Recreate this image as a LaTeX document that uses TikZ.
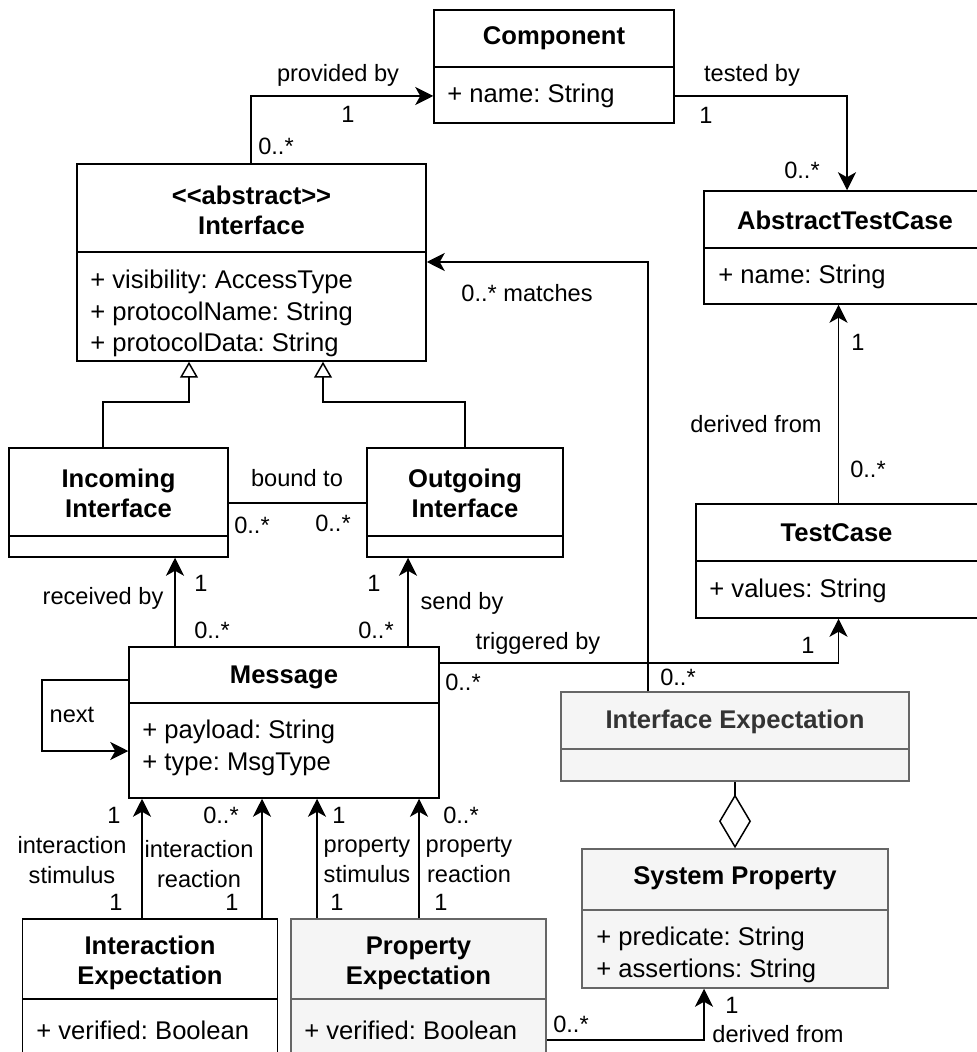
\documentclass[tikz,border=0pt]{standalone}
\usepackage{fontspec}
\setmainfont{Liberation Sans}
\newfontfamily\umlfont{Liberation Sans}
\usetikzlibrary{arrows.meta,fit}
\definecolor{gfill}{HTML}{F5F5F5}
\definecolor{gborder}{HTML}{666666}
\definecolor{gtext}{HTML}{333333}
\frenchspacing
\tikzset{
  box/.style={draw, line width=0.75pt, inner sep=0pt, fill=white},
  gbox/.style={box, draw=gborder, fill=gfill},
  hdr/.style={font=\umlfont\frenchspacing\fontsize{12.8}{15}\selectfont\bfseries, align=center, inner sep=0pt},
  attr/.style={font=\umlfont\frenchspacing\fontsize{12.8}{15.75}\selectfont, align=left, anchor=west, inner sep=0pt},
  lbl/.style={font=\umlfont\frenchspacing\fontsize{11.8}{14.6}\selectfont, inner sep=0pt, align=center},
  divider/.style={line width=0.75pt},
  conn/.style={line width=0.75pt},
  assoc/.style={conn, -{Stealth[length=9pt,width=9pt,inset=2.5pt]}},
  gen/.style={conn, -{Triangle[open,length=8pt,width=9pt,fill=white]}},
  agg/.style={conn, -{Diamond[open,length=27pt,width=16pt,fill=white]}},
}
\begin{document}
\begin{tikzpicture}[x=0.5pt,y=-0.5pt]
\useasboundingbox (0,0) rectangle (977,1052);
\fill[white] (0,0) rectangle (977,1052);
\clip (0,0) rectangle (977,1052);

% ---------- classes ----------
% Component
\node[box, fit={(434,10) (674,123)}] (comp) {};
\draw[divider] (comp.west |- 0,67) -- (comp.east |- 0,67);
\node[hdr] (compH) at (554,38) {Component};
\node[attr] (compA) at (447,96) {+ name: String};

% Interface
\node[box, fit={(77,164) (426,361)}] (iface) {};
\draw[divider] (iface.west |- 0,252) -- (iface.east |- 0,252);
\node[hdr] (ifaceH) at (251.5,210) {<<abstract>>\\Interface};
\node[attr] (ifaceA) at (90,313.5) {+ visibility: AccessType\\+ protocolName: String\\+ protocolData: String};

% AbstractTestCase
\node[box, fit={(704,191) (986,304)}] (atc) {};
\draw[divider] (atc.west |- 0,248) -- (atc.east |- 0,248);
\node[hdr] (atcH) at (845,220) {AbstractTestCase};
\node[attr] (atcA) at (718,277) {+ name: String};

% TestCase
\node[box, fit={(696,504) (978,618)}] (tc) {};
\draw[divider] (tc.west |- 0,561) -- (tc.east |- 0,561);
\node[hdr] (tcH) at (836.5,533) {TestCase};
\node[attr] (tcA) at (709,591) {+ values: String};

% Incoming Interface
\node[box, fit={(9,448) (228,557)}] (inc) {};
\draw[divider] (inc.west |- 0,536) -- (inc.east |- 0,536);
\node[hdr] (incH) at (118.5,493) {Incoming\\Interface};

% Outgoing Interface
\node[box, fit={(367,448) (563,557)}] (out) {};
\draw[divider] (out.west |- 0,536) -- (out.east |- 0,536);
\node[hdr] (outH) at (465,493) {Outgoing\\Interface};

% Message
\node[box, fit={(129,647) (439,798)}] (msg) {};
\draw[divider] (msg.west |- 0,703) -- (msg.east |- 0,703);
\node[hdr] (msgH) at (284,677) {Message};
\node[attr] (msgA) at (142,748) {+ payload: String\\+ type: MsgType};

% Interface Expectation
\node[gbox, fit={(561,692) (909,781)}] (ie) {};
\draw[divider, gborder] (ie.west |- 0,749) -- (ie.east |- 0,749);
\node[hdr, text=gtext] (ieH) at (735,722) {Interface Expectation};

% System Property
\node[gbox, fit={(582,849) (888,988)}] (sp) {};
\draw[divider, gborder] (sp.west |- 0,910) -- (sp.east |- 0,910);
\node[hdr] (spH) at (735,878) {System Property};
\node[attr] (spA) at (596,955) {+ predicate: String\\+ assertions: String};

% Interaction Expectation
\node[box, fit={(22.5,919) (277.5,1090)}] (intexp) {};
\draw[divider] (intexp.west |- 0,999) -- (intexp.east |- 0,999);
\node[hdr] (intexpH) at (150,963) {Interaction\\Expectation};
\node[attr] (intexpA) at (36,1030) {+ verified: Boolean};

% Property Expectation
\node[gbox, fit={(291,919) (546,1090)}] (pe) {};
\draw[divider, gborder] (pe.west |- 0,999) -- (pe.east |- 0,999);
\node[hdr] (peH) at (418.5,963) {Property\\Expectation};
\node[attr] (peA) at (304,1030) {+ verified: Boolean};

% ---------- connectors ----------
\draw[assoc] (iface.north -| 251,0) |- (comp.west |- 0,96);
\draw[assoc] (comp.east |- 0,96) -| (atc.north -| 847,0);
\draw[assoc] (ie.north -| 648,0) |- (iface.east |- 0,262);
\draw[assoc] (tc.north -| 838.5,0) -- (atc.south -| 838.5,0);
\draw[assoc] (msg.east |- 0,663) -| (tc.south -| 838.5,0);
\draw[conn] (inc.east |- 0,503) -- (out.west |- 0,503);
\draw[gen] (inc.north -| 103,0) |- (189,402) -- (iface.south -| 189,0);
\draw[gen] (out.north -| 465,0) |- (323,402) -- (iface.south -| 323,0);
\draw[assoc] (msg.north -| 175,0) -- (inc.south -| 175,0);
\draw[assoc] (msg.north -| 408,0) -- (out.south -| 408,0);
\draw[assoc] (msg.west |- 0,680) -- (42,680) |- (msg.west |- 0,751);
\draw[assoc] (intexp.north -| 142,0) -- (msg.south -| 142,0);
\draw[assoc] (intexp.north -| 262,0) -- (msg.south -| 262,0);
\draw[assoc] (pe.north -| 317,0) -- (msg.south -| 317,0);
\draw[assoc] (pe.north -| 419,0) -- (msg.south -| 419,0);
\draw[agg] (ie.south -| 735,0) -- (sp.north -| 735,0);
\draw[assoc] (pe.east |- 0,1040) -| (sp.south -| 704,0);

% ---------- labels ----------
\node[lbl] (l1) at (338,75) {provided by};
\node[lbl] (l2) at (348,114) {1};
\node[lbl] (l3) at (276,146) {0..*};
\node[lbl] (l4) at (752,75) {tested by};
\node[lbl] (l5) at (706,115) {1};
\node[lbl] (l6) at (802,170) {0..*};
\node[lbl] (l7) at (527,293) {0..* matches};
\node[lbl] (l8) at (756,424) {derived from};
\node[lbl] (l9) at (858,342) {1};
\node[lbl] (l10) at (868,469) {0..*};
\node[lbl] (l11) at (297,478) {bound to};
\node[lbl] (l12) at (252,525) {0..*};
\node[lbl] (l13) at (333,523) {0..*};
\node[lbl] (l14) at (103,598) {received by};
\node[lbl] (l15) at (201,583) {1};
\node[lbl] (l16) at (212,630) {0..*};
\node[lbl] (l17) at (374,583) {1};
\node[lbl] (l18) at (376,630) {0..*};
\node[lbl] (l19) at (462,603) {send by};
\node[lbl] (l20) at (538,643) {triggered by};
\node[lbl] (l21) at (808,645) {1};
\node[lbl] (l22) at (463,682) {0..*};
\node[lbl] (l23) at (678,677) {0..*};
\node[lbl] (l24) at (72,715) {next};
\node[lbl] (l25) at (114,815) {1};
\node[lbl] (l26) at (72,860) {interaction\\stimulus};
\node[lbl] (l27) at (116,902) {1};
\node[lbl] (l28) at (221,815) {0..*};
\node[lbl] (l29) at (199,864) {interaction\\reaction};
\node[lbl] (l30) at (232,902) {1};
\node[lbl] (l31) at (339,815) {1};
\node[lbl] (l32) at (367,860) {property\\stimulus};
\node[lbl] (l33) at (337,902) {1};
\node[lbl] (l34) at (461,815) {0..*};
\node[lbl] (l35) at (469,860) {property\\reaction};
\node[lbl] (l36) at (441,902) {1};
\node[lbl] (l37) at (732,1005) {1};
\node[lbl] (l38) at (571,1024) {0..*};
\node[lbl] (l39) at (778,1034) {derived from};
\end{tikzpicture}
\end{document}
